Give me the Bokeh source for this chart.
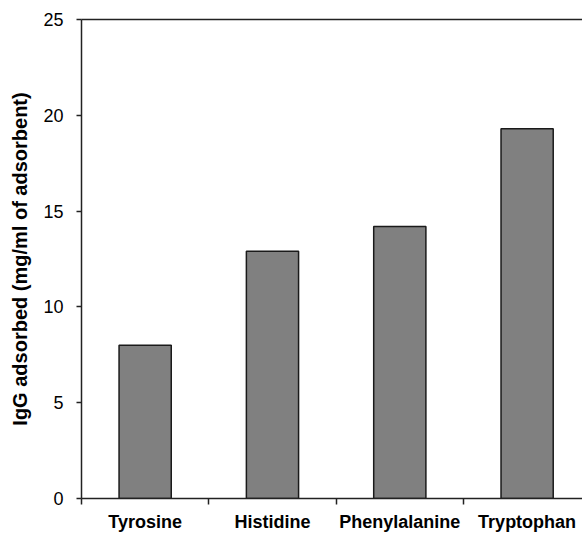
from bokeh.plotting import figure
from bokeh.models import ColumnDataSource, FixedTicker, LinearAxis, Range1d
from bokeh.embed import file_html
from bokeh.resources import INLINE

# Amino-acid ligands and IgG capacity (mg/ml of adsorbent)
ligands = ["Tyrosine", "Histidine", "Phenylalanine", "Tryptophan"]
igg_adsorbed = [8.0, 12.9, 14.2, 19.3]
y_ticks = [0, 5, 10, 15, 20, 25]

centers = [i + 0.5 for i in range(len(ligands))]
src = ColumnDataSource(dict(x=centers, top=igg_adsorbed, name=ligands))

FONT = "Liberation Sans"
AXIS_COLOR = "#222222"

p = figure(width=582, height=534, output_backend="svg", toolbar_location=None,
           x_range=Range1d(0, 3.935), y_range=Range1d(0, 25),
           min_border_left=81, min_border_top=19, min_border_bottom=35,
           min_border_right=0, outline_line_color=None,
           x_axis_location=None, y_axis_location=None)
p.grid.visible = False

p.vbar(x="x", top="top", width=0.41, source=src, fill_color="#808080",
       line_color="#1a1a1a", line_width=1.5)

# category axis: labels under each bar, ticks on the category boundaries
xaxis = LinearAxis(ticker=FixedTicker(ticks=centers, minor_ticks=[0, 1, 2, 3]),
                   major_label_overrides={c: n for c, n in zip(centers, ligands)})
xaxis.major_tick_line_color = None
xaxis.major_tick_out = 6
xaxis.minor_tick_in = 0
xaxis.minor_tick_out = 6
xaxis.minor_tick_line_color = AXIS_COLOR
xaxis.minor_tick_line_width = 1.5
xaxis.axis_line_color = AXIS_COLOR
xaxis.axis_line_width = 1.5
xaxis.major_label_text_font = FONT
xaxis.major_label_text_font_style = "bold"
xaxis.major_label_text_font_size = "18px"
xaxis.major_label_text_color = "black"
xaxis.major_label_standoff = 7
p.add_layout(xaxis, "below")

yaxis = LinearAxis(ticker=FixedTicker(ticks=y_ticks, minor_ticks=[]),
                   axis_label="IgG adsorbed (mg/ml of adsorbent)")
yaxis.major_tick_in = 0
yaxis.major_tick_out = 5
yaxis.major_tick_line_color = AXIS_COLOR
yaxis.major_tick_line_width = 1.5
yaxis.axis_line_color = AXIS_COLOR
yaxis.axis_line_width = 1.5
yaxis.major_label_text_font = FONT
yaxis.major_label_text_font_size = "18px"
yaxis.major_label_text_color = "black"
yaxis.major_label_standoff = 13
yaxis.axis_label_text_font = FONT
yaxis.axis_label_text_font_style = "bold"
yaxis.axis_label_text_font_size = "20px"
yaxis.axis_label_text_color = "black"
yaxis.axis_label_standoff = 9
p.add_layout(yaxis, "left")

# plain line closing the top of the plot area
top = LinearAxis(ticker=FixedTicker(ticks=[], minor_ticks=[]))
top.major_tick_out = 0
top.major_tick_in = 0
top.minor_tick_out = 0
top.axis_line_color = AXIS_COLOR
top.axis_line_width = 1.5
p.add_layout(top, "above")

open("out.html", "w").write(file_html(p, INLINE))
